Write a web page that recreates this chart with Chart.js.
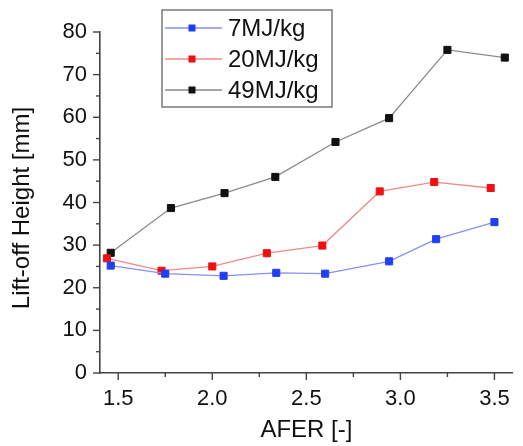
<!DOCTYPE html>
<html>
<head>
<meta charset="utf-8">
<script src="https://cdn.jsdelivr.net/npm/chart.js@4.4.1/dist/chart.umd.min.js"></script>
<style>
html,body{margin:0;padding:0;background:#fff;}
#wrap{width:523px;height:446px;position:relative;}
</style>
</head>
<body>
<div id="wrap"><canvas id="c" width="523" height="446"></canvas></div>
<script>
const seriesLabels = ['7MJ/kg', '20MJ/kg', '49MJ/kg'];
const x7  = [1.46, 1.75, 2.06, 2.34, 2.60, 2.94, 3.19, 3.50];
const y7  = [25.2, 23.3, 22.8, 23.5, 23.3, 26.2, 31.4, 35.4];
const x20 = [1.44, 1.73, 2.00, 2.29, 2.585, 2.89, 3.18, 3.48];
const y20 = [26.9, 24.0, 25.0, 28.1, 29.9, 42.6, 44.8, 43.4];
const x49 = [1.46, 1.78, 2.065, 2.335, 2.655, 2.94, 3.25, 3.555];
const y49 = [28.2, 38.7, 42.2, 46.0, 54.2, 59.8, 75.8, 74.0];
const xTickValues = [1.5, 2.0, 2.5, 3.0, 3.5];
const yTickValues = [0, 10, 20, 30, 40, 50, 60, 70, 80];
const xTitle = 'AFER [-]';
const yTitle = 'Lift-off Height [mm]';

const FONT = "'Liberation Sans', Arial, sans-serif";
const lineColors = ['#8c8ef0', '#f28a8a', '#8a8a8a'];
const markColors = ['#1f3ff0', '#ee1111', '#111111'];

function pts(xs, ys){ return xs.map((x,i)=>({x:x, y:ys[i]})); }
const allX = [x7, x20, x49], allY = [y7, y20, y49];

const datasets = seriesLabels.map((lab,i)=>({
  label: lab,
  data: pts(allX[i], allY[i]),
  borderColor: lineColors[i],
  borderWidth: 1.3,
  pointStyle: 'rect',
  pointRadius: 5,
  pointBorderWidth: 1,
  pointBackgroundColor: markColors[i],
  pointBorderColor: markColors[i],
  tension: 0,
  clip: false
}));

const customDecor = {
  id: 'customDecor',
  afterDraw(chart){
    const ctx = chart.ctx;
    const xs = chart.scales.x, ys = chart.scales.y;
    const ca = chart.chartArea;
    ctx.save();
    ctx.strokeStyle = '#444';
    ctx.lineWidth = 1.4;
    // x ticks (outward)
    for (let v = 1.5; v <= 3.6; v += 0.25) {
      const px = xs.getPixelForValue(v);
      const major = Math.abs(v*2 - Math.round(v*2)) < 1e-6;
      ctx.beginPath();
      ctx.moveTo(px, ca.bottom);
      ctx.lineTo(px, ca.bottom + (major ? 7 : 4));
      ctx.stroke();
    }
    // y ticks (outward)
    for (let v = 0; v <= 80; v += 5) {
      const py = ys.getPixelForValue(v);
      const major = v % 10 === 0;
      ctx.beginPath();
      ctx.moveTo(ca.left, py);
      ctx.lineTo(ca.left - (major ? 7 : 4), py);
      ctx.stroke();
    }
    // axis titles
    ctx.fillStyle = '#111';
    ctx.font = '24px ' + FONT;
    ctx.textAlign = 'center';
    ctx.textBaseline = 'middle';
    ctx.fillText(xTitle, (ca.left + ca.right) / 2, 430);
    ctx.save();
    ctx.translate(22, 208);
    ctx.rotate(-Math.PI / 2);
    ctx.fillText(yTitle, 0, 0);
    ctx.restore();
    // legend
    const bx = 162, by = 10, bw = 170, bh = 97;
    ctx.strokeStyle = '#7a7a7a';
    ctx.lineWidth = 1.5;
    ctx.strokeRect(bx, by, bw, bh);
    const rows = [28, 59, 90];
    ctx.font = '24px ' + FONT;
    ctx.textBaseline = 'middle';
    ctx.textAlign = 'left';
    seriesLabels.forEach((lab,i)=>{
      const yy = rows[i];
      ctx.strokeStyle = lineColors[i];
      ctx.lineWidth = 1.3;
      ctx.beginPath(); ctx.moveTo(165, yy); ctx.lineTo(222, yy); ctx.stroke();
      ctx.fillStyle = markColors[i];
      ctx.fillRect(188.5, yy - 3.5, 7, 7);
      ctx.fillStyle = '#111';
      ctx.fillText(lab, 228, yy + 1);
    });
    ctx.restore();
  }
};

new Chart(document.getElementById('c'), {
  type: 'line',
  data: { datasets },
  options: {
    responsive: false,
    animation: false,
    devicePixelRatio: 1,
    layout: { padding: { top: 32, right: 0, left: 0, bottom: 0 } },
    plugins: { legend: { display: false }, tooltip: { enabled: false } },
    scales: {
      x: {
        type: 'linear',
        min: 1.403, max: 3.598,
        afterBuildTicks(s){ s.ticks = xTickValues.map(v=>({value:v})); },
        afterFit(s){ s.height = 73; },
        grid: { display: false, drawOnChartArea: false, drawTicks: false },
        border: { display: true, color: '#444', width: 1.6 },
        ticks: {
          padding: 13,
          color: '#111',
          font: { family: FONT, size: 22 },
          callback: v => v.toFixed(1),
          maxRotation: 0, autoSkip: false
        },
        title: { display: false }
      },
      y: {
        type: 'linear',
        min: 0, max: 80,
        afterBuildTicks(s){ s.ticks = yTickValues.map(v=>({value:v})); },
        afterFit(s){ s.width = 100; },
        grid: { display: false, drawOnChartArea: false, drawTicks: false },
        border: { display: true, color: '#444', width: 1.6 },
        ticks: {
          padding: 13,
          color: '#111',
          font: { family: FONT, size: 22 },
          autoSkip: false
        },
        title: { display: false }
      }
    }
  },
  plugins: [customDecor]
});
</script>
</body>
</html>
